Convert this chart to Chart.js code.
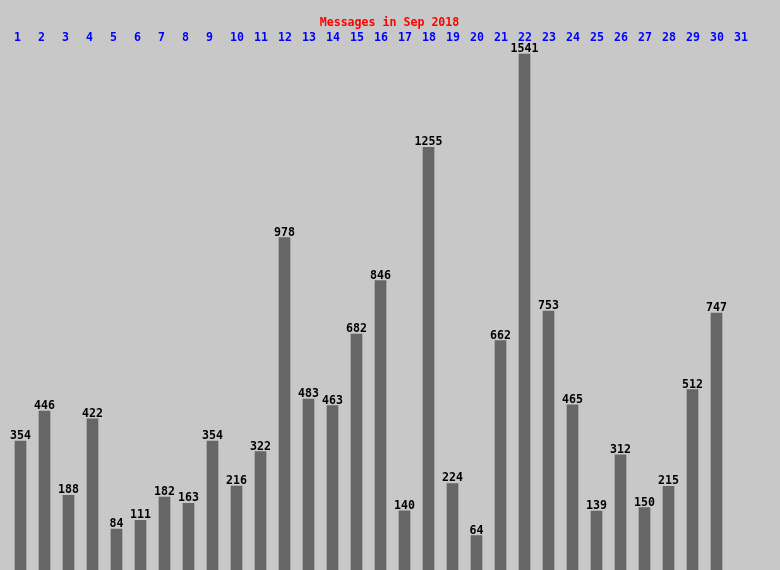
<!DOCTYPE html>
<html>
<head>
<meta charset="utf-8">
<script src="https://cdn.jsdelivr.net/npm/chart.js@4/dist/chart.umd.min.js"></script>
<style>
  body { margin: 0; background: #c8c8c8; }
  #wrap { width: 780px; height: 570px; }
</style>
</head>
<body>
<div id="wrap"><canvas id="myChart" width="780" height="570"></canvas></div>
<script>
// messages per day, Sep 2018 (day 31 has no data)
var days = [];
for (var d = 1; d <= 31; d++) days.push(String(d));
var messages = [354, 446, 188, 422, 84, 111, 182, 163, 354, 216, 322, 978, 483, 463, 682,
                846, 140, 1255, 224, 64, 662, 1541, 753, 465, 139, 312, 150, 215, 512, 747, null];
var chartTitle = "Messages in Sep 2018";

var FONT = "bold 11.6px 'DejaVu Sans Mono', monospace";
var Y_MIN = -41.4, Y_MAX = 1707;

// draws background, title, day numbers on top and the value above each bar
var labelsPlugin = {
  id: "msgLabels",
  beforeDraw: function(chart) {
    var ctx = chart.ctx;
    ctx.save();
    ctx.fillStyle = "#c8c8c8";
    ctx.fillRect(0, 0, chart.width, chart.height);
    ctx.restore();
  },
  afterDatasetsDraw: function(chart) {
    var ctx = chart.ctx;
    var xs = chart.scales.x;
    ctx.save();
    ctx.font = FONT;
    ctx.textBaseline = "alphabetic";

    ctx.fillStyle = "#ff0000";
    ctx.textAlign = "center";
    ctx.fillText(chartTitle, 389.5, 26);

    ctx.fillStyle = "#0000ff";
    ctx.textAlign = "left";
    for (var i = 0; i < days.length; i++) {
      ctx.fillText(days[i], xs.getPixelForValue(i) - 6.5, 41);
    }

    ctx.fillStyle = "#000000";
    ctx.textAlign = "center";
    var meta = chart.getDatasetMeta(0);
    meta.data.forEach(function(bar, i) {
      if (messages[i] == null) return;
      ctx.fillText(String(messages[i]), bar.x, bar.y - 2);
    });
    ctx.restore();
  }
};

var ctx = document.getElementById("myChart");
var myChart = new Chart(ctx, {
  type: "bar",
  data: {
    labels: days,
    datasets: [{
      data: messages,
      backgroundColor: "#666666",
      borderWidth: 0,
      barThickness: 11,
      base: Y_MIN
    }]
  },
  options: {
    responsive: false,
    animation: false,
    layout: { padding: { left: 8.5, right: 27.5, top: 0, bottom: 0 } },
    plugins: {
      legend: { display: false },
      tooltip: { enabled: false },
      title: { display: false }
    },
    scales: {
      x: { display: false, offset: true },
      y: { display: false, min: Y_MIN, max: Y_MAX }
    }
  },
  plugins: [labelsPlugin]
});
</script>
</body>
</html>
